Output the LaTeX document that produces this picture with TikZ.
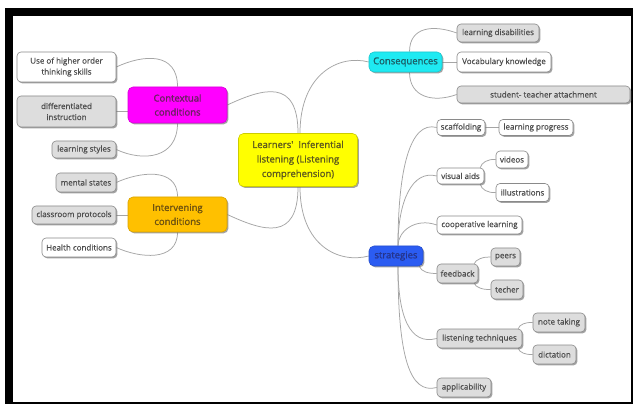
\documentclass[tikz,border=0pt]{standalone}
\usepackage{fontspec}
\setmainfont{Open Sans}
\newfontfamily\leaffont[FakeBold=0.5]{Open Sans}
\newfontfamily\topicfont[FakeBold=1.2]{Open Sans}
\usetikzlibrary{shadows}
\pgfdeclarelayer{frame}
\pgfdeclarelayer{background}
\pgfsetlayers{frame,background,main}
\definecolor{linegrey}{HTML}{A5A5A5}
\definecolor{bordergrey}{HTML}{8A8A8A}
\definecolor{leafgrey}{HTML}{DDDDDD}
\definecolor{txt}{HTML}{4E4E4E}
\definecolor{cyellow}{HTML}{FFFF00}
\definecolor{cmag}{HTML}{FF00FF}
\definecolor{camber}{HTML}{FFC000}
\definecolor{ccyan}{HTML}{1EEAF2}
\definecolor{cblue}{HTML}{2B5CF2}
\definecolor{tyellow}{HTML}{5E5A1E}
\definecolor{tmag}{HTML}{6A2060}
\definecolor{tamber}{HTML}{6E5210}
\definecolor{tcyan}{HTML}{1C5E66}
\definecolor{tblue}{HTML}{24348C}
\begin{document}
\begin{tikzpicture}[x=1pt,y=1pt,
  box/.style={draw=bordergrey, rounded corners=4pt, line width=0.6pt, inner sep=0pt,
    align=center, text=txt, font=\leaffont\fontsize{8}{11}\selectfont,
    drop shadow={shadow xshift=1.4pt, shadow yshift=-1.4pt, fill=black!60, opacity=0.6}},
  leafw/.style={box, fill=white},
  leafg/.style={box, fill=leafgrey},
  topic/.style={box, rounded corners=5pt, font=\topicfont\fontsize{9.5}{14}\selectfont},
  conn/.style={draw=linegrey, line width=0.75pt},
]
\begin{pgfonlayer}{frame}
\fill[white] (0,0) rectangle (634,407);
\fill[black] (5,3) rectangle (633,399);
\fill[white] (13,5) rectangle (631,391);
\end{pgfonlayer}

% central and main topics
\node[topic, fill=cyellow, draw=cyellow!80!black, text=tyellow, minimum width=119, minimum height=53,
  font=\topicfont\fontsize{9.5}{14.5}\selectfont] (central) at (298,247) {Learners'\ \ Inferential\\listening (Listening\\comprehension)};
\node[topic, fill=cmag, draw=cmag!85!black, text=tmag, minimum width=99, minimum height=36] (ctx) at (177.5,302) {Contextual\\conditions};
\node[topic, fill=camber, draw=camber!85!black, text=tamber, minimum width=99, minimum height=35] (interv) at (177.5,192.5) {Intervening\\conditions};
\node[topic, fill=ccyan, draw=ccyan!85!black, text=tcyan, minimum width=73, minimum height=20] (cons) at (405.5,345) {Consequences};
\node[topic, fill=cblue, draw=cblue!85!black, text=tblue, minimum width=54, minimum height=20] (strat) at (396,151) {strategies};

% left leaves
\node[leafw, minimum width=99, minimum height=30] (useho) at (66.5,340) {Use of higher order\\thinking skills};
\node[leafg, minimum width=99, minimum height=31] (diff) at (66.5,295.5) {differentiated\\instruction};
\node[leafg, minimum width=64, minimum height=17] (lsty) at (84,257.5) {learning styles};
\node[leafg, minimum width=60, minimum height=19] (mental) at (86,224.5) {mental states};
\node[leafg, minimum width=84, minimum height=18] (classp) at (74,192) {classroom protocols};
\node[leafw, minimum width=74, minimum height=19] (health) at (79,159.5) {Health conditions};

% consequences leaves
\node[leafg, minimum width=82, minimum height=18] (ldis) at (498,374) {learning disabilities};
\node[leafw, minimum width=94, minimum height=20] (vocab) at (504,345) {Vocabulary knowledge};
\node[leafg, minimum width=173, minimum height=17] (stud) at (543.5,312.5) {student- teacher attachment};

% strategies leaves
\node[leafw, minimum width=48, minimum height=16] (scaf) at (461,279.5) {scaffolding};
\node[leafw, minimum width=74, minimum height=16] (lprog) at (536,279.5) {learning progress};
\node[leafw, minimum width=47, minimum height=16] (vis) at (460.5,231) {visual aids};
\node[leafw, minimum width=32, minimum height=17] (vid) at (512,247.5) {videos};
\node[leafw, minimum width=53, minimum height=18] (ill) at (522.5,214.5) {illustrations};
\node[leafw, minimum width=85, minimum height=18] (coop) at (479.5,182) {cooperative learning};
\node[leafg, minimum width=29, minimum height=18] (peers) at (505.5,150) {peers};
\node[leafg, minimum width=41, minimum height=19] (fb) at (457.5,133.5) {feedback};
\node[leafg, minimum width=32, minimum height=19] (tech) at (507,117.5) {techer};
\node[leafg, minimum width=85, minimum height=19] (lt) at (479.5,68.5) {listening techniques};
\node[leafg, minimum width=52, minimum height=19] (note) at (559,84.5) {note taking};
\node[leafg, minimum width=43, minimum height=19] (dict) at (554.5,52.5) {dictation};
\node[leafg, minimum width=54, minimum height=19] (app) at (464,19.5) {applicability};

\begin{pgfonlayer}{background}
% central
\draw[conn] (central.north) to[out=90,in=25,out distance=55pt,in distance=40pt] (ctx.east);
\draw[conn] ([xshift=2pt]central.north) to[out=90,in=165,out distance=60pt,in distance=30pt] (cons.west);
\draw[conn] (central.south) to[out=-90,in=-25,out distance=55pt,in distance=40pt] (interv.east);
\draw[conn] ([xshift=2pt]central.south) to[out=-90,in=195,out distance=60pt,in distance=30pt] (strat.west);
% contextual
\draw[conn] (ctx.north) to[out=90,in=25,out distance=35pt,in distance=30pt] (useho.east);
\draw[conn] (ctx.west |- diff.east) -- (diff.east);
\draw[conn] (ctx.south) to[out=-90,in=-25,out distance=35pt,in distance=30pt] (lsty.east);
% intervening
\draw[conn] (interv.north) to[out=90,in=25,out distance=30pt,in distance=25pt] (mental.east);
\draw[conn] (interv.west |- classp.east) -- (classp.east);
\draw[conn] (interv.south) to[out=-90,in=-25,out distance=30pt,in distance=25pt] (health.east);
% consequences
\draw[conn] ([xshift=4pt]cons.north) to[out=90,in=160,out distance=25pt,in distance=25pt] (ldis.west);
\draw[conn] (cons.east) -- (vocab.west);
\draw[conn] ([xshift=4pt]cons.south) to[out=-90,in=200,out distance=25pt,in distance=25pt] (stud.west);
% strategies
\draw[conn] ([xshift=2pt]strat.north) to[out=90,in=165,out distance=75pt,in distance=28pt] (scaf.west);
\draw[conn] ([xshift=2pt]strat.north) to[out=90,in=165,out distance=45pt,in distance=25pt] (vis.west);
\draw[conn] ([xshift=2pt]strat.north) to[out=90,in=160,out distance=15pt,in distance=22pt] (coop.west);
\draw[conn] ([xshift=-4pt]strat.south east) to[out=-70,in=180,out distance=6pt,in distance=8pt] (fb.west);
\draw[conn] ([xshift=2pt]strat.south) to[out=-90,in=195,out distance=50pt,in distance=28pt] (lt.west);
\draw[conn] ([xshift=2pt]strat.south) to[out=-90,in=195,out distance=90pt,in distance=28pt] (app.west);
% sub-branches
\draw[conn] (scaf.east) -- (lprog.west);
\draw[conn] ([xshift=-4pt]vis.north east) to[out=80,in=175,out distance=5pt,in distance=8pt] (vid.west);
\draw[conn] ([xshift=-4pt]vis.south east) to[out=-80,in=185,out distance=5pt,in distance=8pt] (ill.west);
\draw[conn] ([xshift=-4pt]fb.north east) to[out=80,in=175,out distance=4pt,in distance=7pt] (peers.west);
\draw[conn] ([xshift=-4pt]fb.south east) to[out=-80,in=185,out distance=4pt,in distance=7pt] (tech.west);
\draw[conn] ([xshift=-4pt]lt.north east) to[out=80,in=175,out distance=4pt,in distance=7pt] (note.west);
\draw[conn] ([xshift=-4pt]lt.south east) to[out=-80,in=185,out distance=4pt,in distance=7pt] (dict.west);
\end{pgfonlayer}
\end{tikzpicture}
\end{document}
